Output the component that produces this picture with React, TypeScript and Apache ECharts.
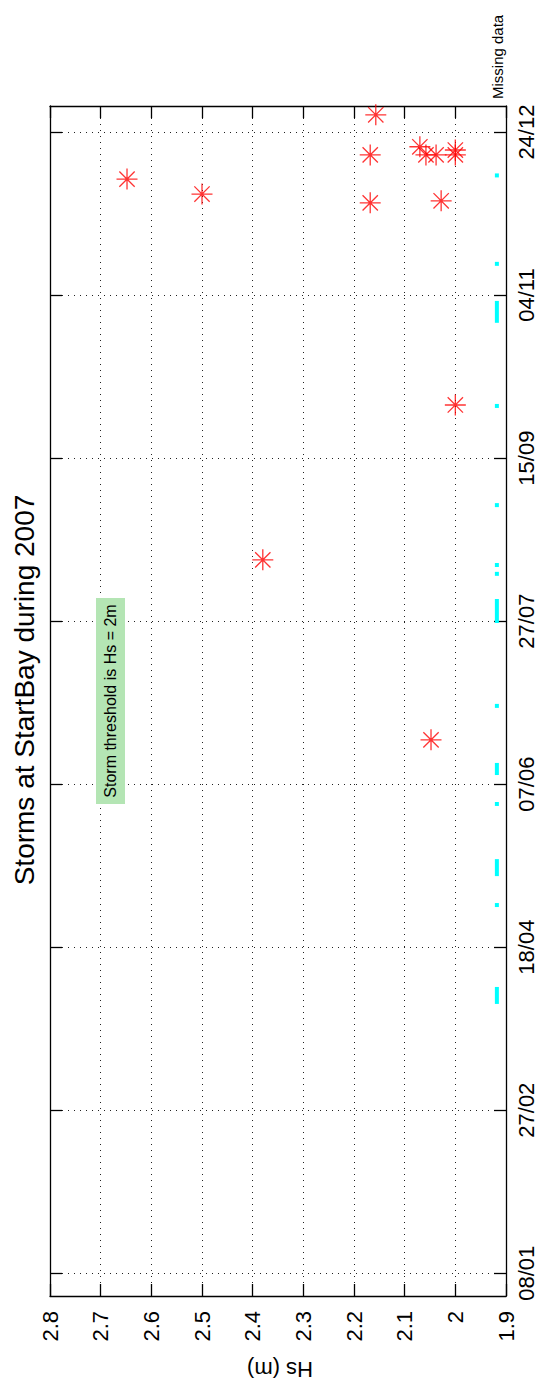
import React, { useEffect, useRef } from "react";
import * as echarts from "echarts";

// ---- data ----
const dateTicks = [
  "2007-01-08 00:00", "2007-02-27 00:00", "2007-04-18 00:00", "2007-06-07 00:00",
  "2007-07-27 00:00", "2007-09-15 00:00", "2007-11-04 00:00", "2007-12-24 00:00",
];
const dateStart = "2007-01-01 00:00";
const dateEnd = "2008-01-01 00:00";
const hsMin = 1.9;
const hsMax = 2.8;
const hsStep = 0.1;

const stormDates = [
  "2007-06-20 14:00", "2007-08-14 19:00", "2007-10-01 07:00", "2007-12-02 07:00",
  "2007-12-02 22:00", "2007-12-05 00:00", "2007-12-09 14:00", "2007-12-17 00:00",
  "2007-12-17 00:00", "2007-12-17 00:00", "2007-12-17 00:00", "2007-12-18 12:00",
  "2007-12-19 12:00", "2007-12-29 07:00",
];
const stormHs = [
  2.048, 2.38, 2.0, 2.168,
  2.028, 2.5, 2.648, 2.168,
  2.058, 2.038, 2.0, 2.0,
  2.07, 2.157,
];

const missingLevel = 1.918;
const missingStart = [
  "2007-03-31 14:00", "2007-04-30 22:00", "2007-05-09 19:00", "2007-05-31 22:00",
  "2007-06-09 19:00", "2007-07-01 00:00", "2007-07-26 10:00", "2007-08-10 12:00",
  "2007-08-13 05:00", "2007-08-31 14:00", "2007-10-01 00:00", "2007-10-26 12:00",
  "2007-11-13 14:00", "2007-12-10 17:00",
];
const missingEnd = [
  "2007-04-05 19:00", "2007-04-30 22:00", "2007-05-15 00:00", "2007-05-31 22:00",
  "2007-06-13 12:00", "2007-07-01 00:00", "2007-08-02 19:00", "2007-08-10 12:00",
  "2007-08-13 05:00", "2007-08-31 14:00", "2007-10-01 00:00", "2007-11-02 05:00",
  "2007-11-13 14:00", "2007-12-10 17:00",
];

const titleText = "Storms at StartBay during 2007";
const yName = "Hs (m)";
const noteText = "Storm threshold is Hs = 2m";
const missingLabel = "Missing data";

// ---- helpers ----
function toMs(s: string): number {
  const [d, t] = s.split(" ");
  const [y, m, day] = d.split("-").map(Number);
  const [hh, mm] = (t || "00:00").split(":").map(Number);
  return Date.UTC(y, m - 1, day, hh, mm);
}
function pad(n: number) {
  return n < 10 ? "0" + n : String(n);
}
function fmtDate(v: number) {
  const d = new Date(v);
  return pad(d.getUTCDate()) + "/" + pad(d.getUTCMonth() + 1);
}

const FONT = "'Liberation Sans', Arial, Helvetica, sans-serif";
const STAR =
  "path://M0,-10L0,10M-10,0L10,0M-7.3,-7.3L7.3,7.3M-7.3,7.3L7.3,-7.3";

export default function App() {
  const ref = useRef<HTMLDivElement>(null);
  useEffect(() => {
    if (!ref.current) return;
    const chart = echarts.init(ref.current, undefined, { renderer: "svg" });
    const tickMs = dateTicks.map(toMs);
    const t0 = toMs(dateStart);
    const t1 = toMs(dateEnd);
    const gridLine = { show: true, lineStyle: { color: "#222", type: [1, 5], width: 1 } };
    const axisLine = { show: true, onZero: false, lineStyle: { color: "#000", width: 1.3 } };
    const tick = { show: true, inside: true, length: 12, lineStyle: { color: "#000", width: 1.3 } };

    const option: any = {
      animation: false,
      backgroundColor: "#ffffff",
      grid: { left: 50, right: 34, top: 106, bottom: 85 },
      xAxis: [
        {
          type: "value", min: hsMin, max: hsMax, interval: hsStep, inverse: true, position: "bottom",
          axisLine, axisTick: tick,
          axisLabel: {
            rotate: 90, margin: 15, color: "#000", fontSize: 22, fontFamily: FONT,
            formatter: (v: number) => String(Math.round(v * 10) / 10),
          },
          splitLine: gridLine,
        },
        {
          type: "value", min: hsMin, max: hsMax, interval: hsStep, inverse: true, position: "top",
          axisLine, axisTick: tick, axisLabel: { show: false }, splitLine: { show: false },
        },
      ],
      yAxis: [
        {
          type: "value", min: t0, max: t1, position: "right",
          axisLine, axisTick: { ...tick, customValues: tickMs },
          axisLabel: {
            rotate: 90, margin: 9, color: "#000", fontSize: 22, fontFamily: FONT,
            customValues: tickMs, formatter: (v: number) => fmtDate(v),
          },
          splitLine: gridLine,
        },
        {
          type: "value", min: t0, max: t1, position: "left",
          axisLine, axisTick: { ...tick, customValues: tickMs },
          axisLabel: { show: false, customValues: tickMs }, splitLine: { show: false },
        },
      ],
      series: [
        {
          type: "custom",
          xAxisIndex: 0, yAxisIndex: 0,
          encode: { x: 0, y: [1, 2] },
          data: missingStart.map((s, i) => [missingLevel, toMs(s), toMs(missingEnd[i])]),
          renderItem: (params: any, api: any) => {
            const x = api.value(0);
            const a = api.coord([x, api.value(1)]);
            const b = api.coord([x, api.value(2)]);
            let h = Math.abs(a[1] - b[1]);
            let y = Math.min(a[1], b[1]);
            if (h < 4) {
              y = (a[1] + b[1]) / 2 - 2;
              h = 4;
            }
            return { type: "rect", shape: { x: a[0] - 2, y, width: 4, height: h }, style: { fill: "#00ffff" } };
          },
          z: 3,
        },
        {
          type: "scatter",
          xAxisIndex: 0, yAxisIndex: 0,
          data: stormHs.map((h, i) => [h, toMs(stormDates[i])]),
          symbol: STAR,
          symbolSize: 21,
          itemStyle: { color: "rgba(0,0,0,0)", borderColor: "#ff0000", borderWidth: 1.3 },
          z: 4,
        },
      ],
      graphic: [
        {
          type: "text", x: 24, y: 690, rotation: Math.PI / 2,
          style: { text: titleText, font: `28px ${FONT}`, fill: "#000", align: "center", verticalAlign: "middle" },
        },
        {
          type: "rect", shape: { x: 96, y: 598, width: 29, height: 206 },
          style: { fill: "#b4e5b4" }, z: 10,
        },
        {
          type: "text", x: 110.5, y: 701, rotation: Math.PI / 2, z: 11,
          style: { text: noteText, font: `16px ${FONT}`, fill: "#000", align: "center", verticalAlign: "middle" },
        },
        {
          type: "text", x: 497, y: 99, rotation: Math.PI / 2,
          style: { text: missingLabel, font: `15px ${FONT}`, fill: "#000", align: "left", verticalAlign: "middle" },
        },
        {
          type: "text", x: 280, y: 1369, rotation: Math.PI,
          style: { text: yName, font: `22px ${FONT}`, fill: "#000", align: "center", verticalAlign: "middle" },
        },
      ],
    };
    chart.setOption(option);
    return () => chart.dispose();
  }, []);
  return (
    <div
      ref={ref}
      style={{ position: "absolute", left: 0, top: 0, width: 540, height: 1381, background: "#fff" }}
    />
  );
}
